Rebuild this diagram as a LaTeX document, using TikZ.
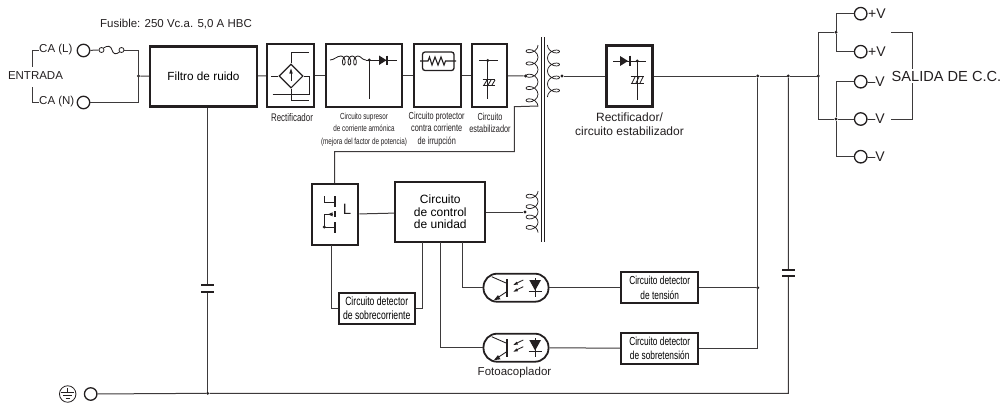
\documentclass[tikz,border=0pt]{standalone}
\usepackage{xcolor}
\usepackage{fontspec}
\setmainfont{Liberation Sans}
\newfontfamily\narrowfont[FakeStretch=0.72]{Liberation Sans}
\usetikzlibrary{shapes.geometric}

\definecolor{ink}{HTML}{231F20}
\newcommand{\opto}[2]{%
\node[optobox] (#1) at (#2) {};
\begin{scope}[shift={(#2)}]
\draw[sym] (-24.3,-11) -- (-9.3,-4.4);
\draw[sym] (-20.3,11.2) -- (-9.3,4);
\fill[ink] (-22,12.4) -- (-15.5,11.6) -- (-18,7.4) -- cycle;
\draw[ink,line width=1.8pt] (-9.3,-8.7) -- (-9.3,9);
\draw[sym] (-1,-3.8) -- (7.3,-7.7);
\fill[ink] (-2.7,-2.7) -- (2,-3.2) -- (0.6,-6) -- cycle;
\draw[sym] (-1,2.9) -- (7.3,-1);
\fill[ink] (-2.7,4) -- (2,3.5) -- (0.6,0.7) -- cycle;
\fill[ink] (13.3,-7.7) -- (25,-7.7) -- (19.1,2.8) -- cycle;
\draw[ink,line width=1.4pt] (12.6,4) -- (25.7,4);
\draw[sym] (19.1,-9.6) -- (19.1,9.4);
\end{scope}}
\newcommand{\coilL}[4]{% centre x, start y, pitch, turns
\draw[sym,line width=0.75pt] plot[smooth,samples=61,domain=0:#4,variable=\t]
 ({#1+6*cos(360*\t)},{#2+#3*\t+4.2*sin(360*\t)});}
\newcommand{\coilR}[4]{%
\draw[sym,line width=0.75pt] plot[smooth,samples=61,domain=0:#4,variable=\t]
 ({#1-6*cos(360*\t)},{#2+#3*\t+4.2*sin(360*\t)});}

\begin{document}
\begin{tikzpicture}[x=1pt,y=-1pt,
wire/.style={draw=ink!88,line width=1pt},
sym/.style={draw=ink,line width=0.85pt},
unit/.style={draw=ink,line width=2.3pt,fill=white,rectangle,inner sep=0pt,align=center},
thinbox/.style={draw=ink,line width=2pt,fill=white,rectangle,inner sep=0pt,align=center},
term/.style={circle,draw=ink,line width=1.3pt,fill=white,minimum size=12.5pt,inner sep=0pt},
pin/.style={circle,fill=ink,minimum size=3.2pt,inner sep=0pt},
optobox/.style={rectangle,rounded corners=13.5pt,draw=ink,line width=1.8pt,fill=white,minimum width=65pt,minimum height=28pt,inner sep=0pt},
lab/.style={font=\fontsize{11.5}{13}\selectfont,text=ink,inner sep=0pt},
volt/.style={font=\fontsize{14}{16}\selectfont,text=ink,inner sep=0pt,anchor=west},
small/.style={font=\narrowfont\fontsize{11}{12.6}\selectfont,text=ink,inner sep=0pt,align=center},
mid/.style={font=\fontsize{12}{13.6}\selectfont,text=ink,inner sep=0pt,align=center},
]
\useasboundingbox (0,0) rectangle (1006,405);

% input side
\node[term] (caL) at (83.5,50.5) {};
\node[term] (caN) at (83.5,102.5) {};
\node[lab,anchor=west] (caLtxt) at (39,50) {CA (L)};
\node[lab,anchor=west] (caNtxt) at (39,102) {CA (N)};
\node[lab] (entrada) at (35.5,76) {ENTRADA};
\node[lab] (fusible) at (176,24) {Fusible: 250 Vc.a. 5,0 A HBC};
\draw[wire] (caLtxt.west) -- ++(-6.5,0) -- ++(0,17);
\draw[wire] (caNtxt.west) -- ++(-6.5,0) -- ++(0,-15.5);
\node[circle,draw=ink,line width=0.8pt,minimum size=5pt,inner sep=0pt] (fuA) at (101.5,50) {};
\node[circle,draw=ink,line width=0.8pt,minimum size=5pt,inner sep=0pt] (fuB) at (121.5,50) {};
\draw[wire] (caL) -- (fuA);
\draw[sym] (fuA.north east) .. controls (108,45) and (111,46) .. (112,50) .. controls (113,54) and (116,55) .. (fuB.south west);
\coordinate (inTop) at (138.5,50);
\coordinate (inBot) at (138.5,102.5);
\node[pin] (inDot) at (138.5,76) {};
\draw[wire] (fuB) -- (inTop) -- (inBot) -- (caN);

% top row
\node[unit,minimum width=107pt,minimum height=60pt] (filtro) at (203.5,76.5) {\fontsize{11.8}{14}\selectfont Filtro de ruido};
\node[unit,minimum width=47pt,minimum height=63pt] (rect) at (290.5,75.5) {};
\node[unit,minimum width=76pt,minimum height=63pt] (armonica) at (364,75.5) {};
\node[unit,minimum width=47pt,minimum height=63pt] (protect) at (437.5,75.5) {};
\node[unit,minimum width=35pt,minimum height=63pt] (estab) at (489.5,75.5) {};
\node[unit,minimum width=46pt,minimum height=61pt] (rect2) at (629.5,76) {};
\draw[wire] (inDot) -- (filtro);
\draw[wire] (filtro) -- (rect);
\draw[wire] (rect) -- (armonica);
\draw[wire] (armonica) -- (protect);
\draw[wire] (protect) -- (estab);

\node[small] (rectTxt) at (292,117.3) {Rectificador};
\node[small,font=\narrowfont\fontsize{8.8}{12.5}\selectfont] (armTxt) at (364,129.3) {Circuito supresor\\de corriente armónica\\(mejora del factor de potencia)};
\node[small,font=\narrowfont\fontsize{10.2}{12.5}\selectfont] (proTxt) at (436.7,129.3) {Circuito protector\\contra corriente\\de irrupción};
\node[small,font=\narrowfont\fontsize{10.2}{12.5}\selectfont] (estTxt) at (490,123) {Circuito\\estabilizador};
\node[mid] (rect2Txt) at (629.5,124) {Rectificador/\\circuito estabilizador};

% symbols in the top row
\node[diamond,draw=ink,line width=1.1pt,minimum width=24pt,minimum height=24pt,inner sep=0pt] (bridge) at (291,76) {};
\draw[sym] (291,81) -- (291,72);
\fill[ink] (291,68.5) -- (289.3,73.5) -- (292.7,73.5) -- cycle;
\draw[sym] (bridge.north) -- (291,52) -- (309,52);
\draw[sym] (271,76) -- (bridge.west);
\draw[sym] (bridge.east) -- (309.7,76) -- (309.7,94.3);
\draw[sym] (bridge.south) -- (291,100) -- (309,100);
\draw[ink,line width=1.2pt] (272.7,94.3) -- (309.7,94.3);

\draw[sym] (330,60) .. controls (334,60) and (337,56) .. (341,56);
\draw[sym] plot[smooth,samples=37,domain=0:3,variable=\t] ({341+5.6*\t+2.6*sin(360*\t)},{60.5-4.5*cos(360*\t)});
\draw[sym] (357.8,56) .. controls (361,56) and (362,60) .. (366,60);
\node[pin] (armDot) at (369.3,60) {};
\draw[sym] (366,60) -- (397,60);
\fill[ink] (379,55.5) -- (386.5,60.2) -- (379,65) -- cycle;
\draw[ink,line width=1.4pt] (387,55.5) -- (387,65);
\draw[sym] (369.3,60) -- (369.3,99);

\draw[ink,line width=1.3pt,rounded corners=2.5pt] (422.5,52) rectangle (454,70.5);
\draw[ink,line width=1.1pt] (420,61) -- (428,61) -- (429.5,57) -- (432,65) -- (435,57) -- (438,65) -- (441,57) -- (444,65) -- (445.5,61) -- (456,61);

\draw[sym] (479,60.5) -- (498,60.5);
\node[pin] (estDot) at (487.7,60.5) {};
\draw[sym] (487.7,60.5) -- (487.7,98.7);
\draw[sym] (482.7,79.7) -- (495,79.7);
\draw[sym] (482.7,85.3) -- (495,85.3);
\draw[sym] (484,85) -- (487,80) (488,85) -- (491,80) (492,85) -- (495,80);

\draw[sym] (613.3,61) -- (646,61);
\fill[ink] (620,56) -- (628,61) -- (620,66) -- cycle;
\draw[ink,line width=1.4pt] (630,55.5) -- (630,66);
\node[pin] (rect2Dot) at (637.3,61) {};
\draw[sym] (637.3,61) -- (637.3,100);
\draw[sym] (630.7,76.7) -- (644.3,76.7);
\draw[sym] (630.7,83.3) -- (644.3,83.3);
\draw[sym] (632,83) -- (635,77) (636,83) -- (639,77) (640,83) -- (643,77);

% transformer
\coordinate (coreAtop) at (541.7,37);
\coordinate (coreAbot) at (541.7,242);
\coordinate (coreBtop) at (544.3,37);
\coordinate (coreBbot) at (544.3,242);
\draw[ink,line width=0.9pt] (coreAtop) -- (coreAbot);
\draw[ink,line width=0.9pt] (coreBtop) -- (coreBbot);
\coilL{532}{45}{12.3}{5}
\coilR{553.5}{45}{13}{4}
\coilL{532}{191}{10.4}{4}
\node[pin] (priDot) at (525.5,76) {};
\node[pin] (secDot) at (562,76) {};
\node[pin] (auxDot) at (525,212) {};
\draw[wire] (estab) -- (priDot);
\draw[wire] (secDot) -- (rect2);

% output side
\node[pin] (busA) at (757.7,76) {};
\node[pin] (busB) at (788.3,76) {};
\node[pin] (busC) at (818.3,76) {};
\draw[wire] (rect2) -- (busA) -- (busB) -- (busC);
\coordinate (brTop) at (818.3,32.3);
\coordinate (brBot) at (818.3,119);
\draw[wire] (brTop) -- (brBot);
\node[pin] (posDot) at (836,32.3) {};
\node[pin] (negDot) at (836,119) {};
\draw[wire] (brTop) -- (posDot);
\node[term] (p1) at (860.7,13.7) {};
\node[term] (p2) at (860.7,51.7) {};
\node[term] (n1) at (860.7,81.7) {};
\node[term] (n2) at (860.7,119) {};
\node[term] (n3) at (860.7,156.7) {};
\draw[wire] (brBot) -- (negDot) -- (n2);
\draw[wire] (p1) -| (posDot);
\draw[wire] (p2) -| (posDot);
\draw[wire] (n1) -| (negDot);
\draw[wire] (n3) -| (negDot);
\node[volt] (p1Txt) at (868,13.7) {+V};
\node[volt] (p2Txt) at (868,51.7) {+V};
\node[volt] (n1Txt) at (867.5,81.7) {--V};
\node[volt] (n2Txt) at (867.5,119) {--V};
\node[volt] (n3Txt) at (867.5,156.7) {--V};
\coordinate (salA) at (891,32.3);
\coordinate (salB) at (912.3,32.3);
\coordinate (salC) at (912.3,119);
\coordinate (salD) at (891,119);
\draw[wire] (salA) -- (salB) -- (salC) -- (salD);
\node[lab,fill=white,font=\fontsize{14.6}{16}\selectfont,anchor=west,inner ysep=1.5pt] (salida) at (891.5,76) {SALIDA DE C.C.};

% control part
\node[unit,line width=2pt,minimum width=46pt,minimum height=61pt] (sw) at (335.3,214.5) {};
\node[unit,minimum width=90pt,minimum height=60pt,font=\fontsize{12}{12.5}\selectfont] (ctrl) at (440.3,212) {Circuito\\de control\\de unidad};
\node[thinbox,minimum width=76pt,minimum height=31pt,font=\narrowfont\fontsize{12}{14.3}\selectfont] (overI) at (376.7,308.3) {Circuito detector\\de sobrecorriente};
\draw[wire] (sw) -- (ctrl);
\draw[wire] (ctrl) -- (auxDot);
\coordinate (fbA) at (514.3,106.7);
\coordinate (fbB) at (514.3,151.7);
\coordinate (fbC) at (334.7,151.7);
\draw[wire] (538,106) -- (fbA) -- (fbB) -- (fbC) -- (fbC |- sw.north);
\draw[wire] (331.7,245) |- (overI.west);
\draw[wire] (overI.east) -| (422.3,242);

% switch symbol
\draw[ink,line width=1.2pt] (335,196) -- (335,207);
\draw[sym] (324.3,196) -- (324.3,202) -- (335,202);
\draw[ink,line width=1.2pt] (335,211.3) -- (335,217);
\draw[ink,line width=1.2pt] (335,222) -- (335,232.7);
\draw[sym] (333,214.3) -- (324.3,214.3) -- (324.3,227) -- (335,227);
\fill[ink] (328,214.3) -- (332.5,212.3) -- (332.5,216.3) -- cycle;
\node[pin] (swDot) at (324.3,227) {};
\node[font=\fontsize{15}{16}\selectfont,text=ink,inner sep=0pt] (lTxt) at (347,209) {L};

% feedback
\opto{optoA}{516,287.7}
\opto{optoB}{516,347.7}
\node[thinbox,minimum width=77pt,minimum height=31pt,font=\narrowfont\fontsize{11.6}{14.3}\selectfont] (detV) at (659.7,287.7) {Circuito detector\\de tensión};
\node[thinbox,minimum width=77pt,minimum height=31pt,font=\narrowfont\fontsize{11.6}{14.3}\selectfont] (detO) at (659.7,348.3) {Circuito detector\\de sobretensión};
\node[lab] (fotoTxt) at (514.5,372.7) {Fotoacoplador};
\draw[wire] (462.3,242) |- (optoA.west);
\draw[wire] (440,242) |- (optoB.west);
\draw[wire] (optoA) -- (detV);
\draw[wire] (optoB) -- (detO);
\node[pin] (vDot) at (757.7,287.7) {};
\draw[wire] (detV) -- (vDot);
\draw[wire] (detO.east) -| (busA);

% ground
\node[term] (gnd) at (90.7,394) {};
\node[circle,draw=ink,line width=0.8pt,minimum size=16.5pt,inner sep=0pt] (gndSym) at (67.7,394) {};
\draw[sym] (67.7,388.3) -- (67.7,392.3);
\draw[sym] (61,392.3) -- (74.4,392.3);
\draw[sym] (63.3,395.6) -- (72,395.6);
\draw[sym] (65.5,398.4) -- (70,398.4);
\node[pin] (gndDot) at (207.7,393.3) {};
\coordinate (capR) at (788.3,393.3);
\draw[wire] (gnd) -- (gndDot) -- (capR) -- (busB);
\draw[wire] (filtro.south -| gndDot) -- (gndDot);
\fill[white] (200,285.6) rectangle (215,291.4);
\fill[white] (781,270.3) rectangle (796,275.4);
\draw[ink,line width=1.8pt] (201,284.9) -- (214,284.9);
\draw[ink,line width=1.8pt] (201,292) -- (214,292);
\draw[ink,line width=1.8pt] (782,269.6) -- (795,269.6);
\draw[ink,line width=1.8pt] (782,276) -- (795,276);

\end{tikzpicture}
\end{document}
